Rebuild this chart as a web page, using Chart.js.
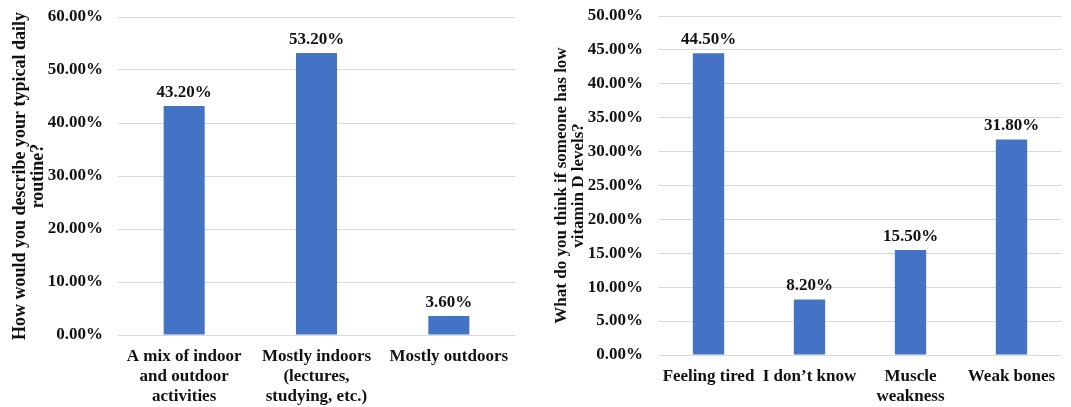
<!DOCTYPE html>
<html>
<head>
<meta charset="utf-8">
<script src="https://cdn.jsdelivr.net/npm/chart.js@4.4.0/dist/chart.umd.min.js"></script>
<style>
  body { margin: 0; background: #fff; }
  #wrap { position: relative; width: 1071px; height: 407px; }
  #left { position: absolute; left: 0; top: 0; }
  #right { position: absolute; left: 540px; top: 0; }
</style>
</head>
<body>
<div id="wrap">
  <canvas id="left" width="540" height="407"></canvas>
  <canvas id="right" width="531" height="407"></canvas>
</div>
<script>
// daily routine question
const routineLabels = [
  ["A mix of indoor", "and outdoor", "activities"],
  ["Mostly indoors", "(lectures,", "studying, etc.)"],
  ["Mostly outdoors"]
];
const routineValues = [43.2, 53.2, 3.6];
const routineTitle = ["How would you describe your typical daily", "routine?"];

// low vitamin D question
const vitdLabels = [
  ["Feeling tired"],
  ["I don\u2019t know"],
  ["Muscle", "weakness"],
  ["Weak bones"]
];
const vitdValues = [44.5, 8.2, 15.5, 31.8];
const vitdTitle = ["What do you think if someone has low", "vitamin D levels?"];

const FONT = "'Liberation Serif', 'Times New Roman', serif";
const BLUE = "#4472C4";
const INK = "#111";

// writes the value on top of each bar
const valueLabels = {
  id: "valueLabels",
  afterDatasetsDraw(chart) {
    const ctx = chart.ctx;
    const ds = chart.data.datasets[0];
    const meta = chart.getDatasetMeta(0);
    ctx.save();
    ctx.font = "bold 17px " + FONT;
    ctx.fillStyle = INK;
    ctx.textAlign = "center";
    ctx.textBaseline = "bottom";
    meta.data.forEach((bar, i) => {
      ctx.fillText(ds.data[i].toFixed(2) + "%", bar.x, bar.y - 5);
    });
    ctx.restore();
  }
};

function makeChart(el, labels, values, title, titleSize, yMax, yStep, axisWidth, axisHeight, pad) {
  return new Chart(el, {
    type: "bar",
    plugins: [valueLabels],
    data: {
      labels: labels,
      datasets: [{
        data: values,
        backgroundColor: BLUE,
        categoryPercentage: 0.31,
        barPercentage: 1
      }]
    },
    options: {
      responsive: false,
      animation: false,
      layout: { padding: pad },
      plugins: { legend: { display: false }, tooltip: { enabled: false } },
      scales: {
        x: {
          afterFit: (scale) => { scale.height = axisHeight; },
          grid: { display: false, drawTicks: false },
          border: { display: false },
          ticks: {
            color: INK,
            maxRotation: 0,
            autoSkip: false,
            padding: 11,
            font: { family: FONT, size: 17, weight: "bold", lineHeight: 1.2 }
          }
        },
        y: {
          min: 0,
          max: yMax,
          afterFit: (scale) => {
            scale.width = axisWidth;
            scale.paddingTop = 0;
            scale.paddingBottom = 0;
          },
          grid: { color: "#d9d9d9", drawTicks: false, lineWidth: 1 },
          border: { display: false },
          ticks: {
            stepSize: yStep,
            color: INK,
            padding: 15,
            font: { family: FONT, size: 17, weight: "bold" },
            callback: (v) => v.toFixed(2) + "%"
          },
          title: {
            display: true,
            text: title,
            color: INK,
            padding: { top: 0, bottom: 0 },
            font: { family: FONT, size: titleSize, weight: "bold", lineHeight: 1 }
          }
        }
      }
    }
  });
}

makeChart(document.getElementById("left"), routineLabels, routineValues, routineTitle, 18,
  60, 10, 107, 72, { left: 11, right: 25, top: 17, bottom: 0 });
makeChart(document.getElementById("right"), vitdLabels, vitdValues, vitdTitle, 17,
  50, 5, 105, 52, { left: 13, right: 9, top: 16, bottom: 0 });
</script>
</body>
</html>
